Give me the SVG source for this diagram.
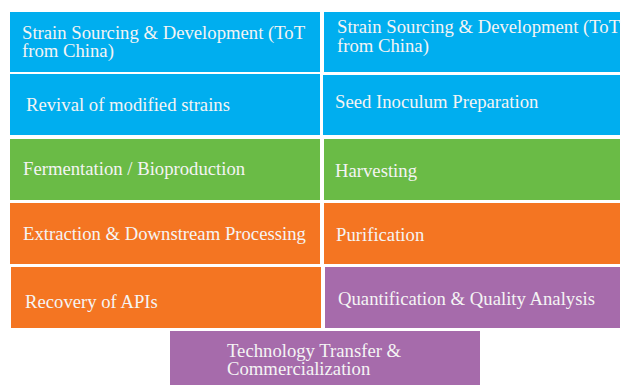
<svg xmlns="http://www.w3.org/2000/svg" width="621" height="385" viewBox="0 0 621 385">
<style>
text{font-family:"Liberation Serif","Times New Roman",serif;font-size:18.7px;fill:#f4f4f4}
.b{fill:#00aeef}.g{fill:#6abb46}.o{fill:#f47522}.p{fill:#a66bab}
</style>
<rect width="621" height="385" fill="#ffffff"/>
<g id="n1"><rect class="b" x="10" y="12" width="310" height="60"/><text x="22" y="39">Strain Sourcing &amp; Development (ToT</text><text x="22" y="57">from China)</text></g>
<g id="n2"><rect class="b" x="324" y="12" width="296" height="60"/><text x="337" y="33">Strain Sourcing &amp; Development (ToT</text><text x="337" y="52">from China)</text></g>
<g id="n3"><rect class="b" x="10" y="74" width="310" height="61"/><text x="26" y="111">Revival of modified strains</text></g>
<g id="n4"><rect class="b" x="323" y="75" width="297" height="60"/><text x="335" y="108">Seed Inoculum Preparation</text></g>
<g id="n5"><rect class="g" x="10" y="139" width="310" height="61"/><text x="23" y="175">Fermentation / Bioproduction</text></g>
<g id="n6"><rect class="g" x="324" y="139" width="296" height="61"/><text x="335" y="177">Harvesting</text></g>
<g id="n7"><rect class="o" x="10" y="203" width="310" height="61"/><text x="23" y="240">Extraction &amp; Downstream Processing</text></g>
<g id="n8"><rect class="o" x="324" y="203" width="296" height="61"/><text x="336" y="241">Purification</text></g>
<g id="n9"><rect class="o" x="11" y="267" width="310" height="61"/><text x="25" y="308">Recovery of APIs</text></g>
<g id="n10"><rect class="p" x="325" y="267" width="295" height="61"/><text x="338" y="305">Quantification &amp; Quality Analysis</text></g>
<g id="n11"><rect class="p" x="170" y="331" width="310" height="54"/><text x="227" y="357">Technology Transfer &amp;</text><text x="227" y="375">Commercialization</text></g>
<g id="connectors"></g>
</svg>
